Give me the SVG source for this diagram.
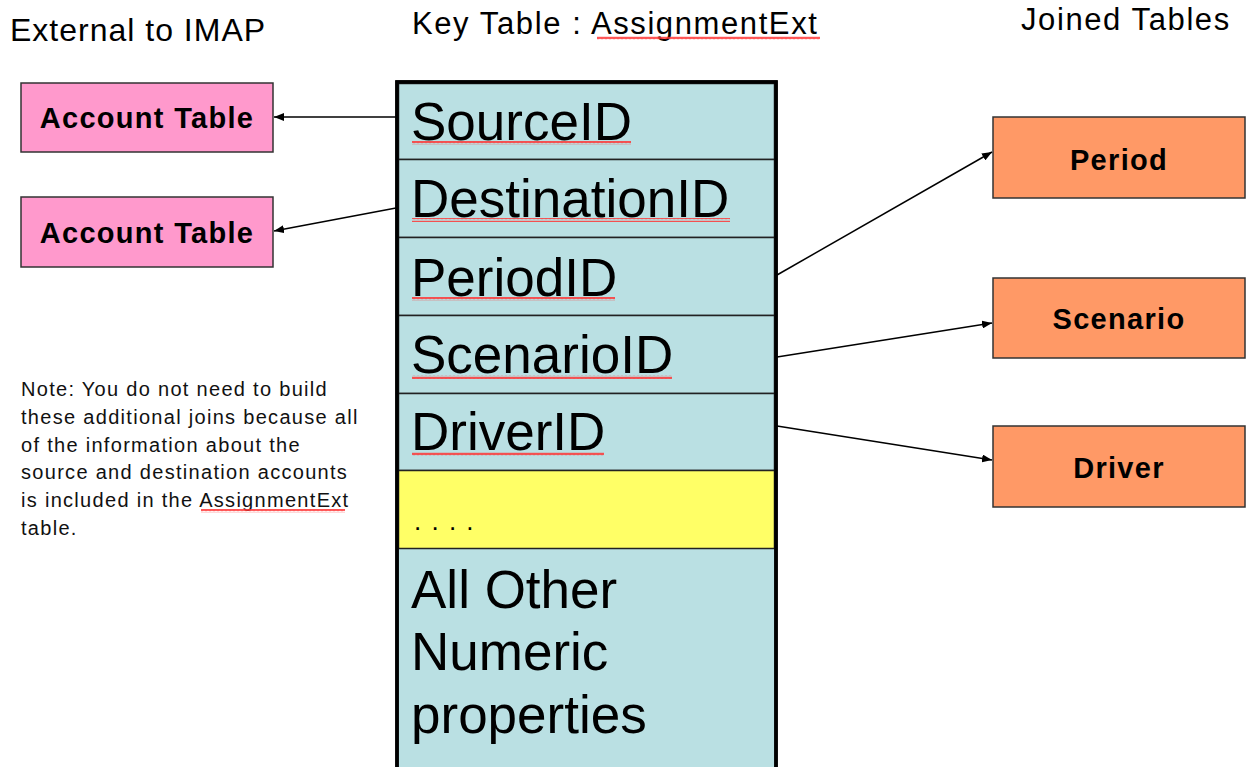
<svg xmlns="http://www.w3.org/2000/svg" width="1248" height="767" viewBox="0 0 1248 767">
<style>
.hdr{font-family:"Liberation Sans",Arial,sans-serif;font-size:31px;letter-spacing:1.6px;fill:#000}
.box{stroke:#333;stroke-width:1.5}
.pink{fill:#FF99CC}
.orange{fill:#FF9966}
.lbl{font-family:"Liberation Sans",Arial,sans-serif;font-size:29px;font-weight:bold;letter-spacing:1.3px;fill:#000}
.fld{font-family:"Liberation Sans",Arial,sans-serif;font-size:53px;fill:#000}
.row{fill:#BAE0E3;stroke:#222;stroke-width:1.5}
.note{font-family:"Liberation Sans",Arial,sans-serif;font-size:20px;letter-spacing:1.3px;fill:#111}
.conn{stroke:#000;stroke-width:1.5;fill:none;marker-end:url(#arr)}
.sq{fill:url(#squig)}
</style>
<defs>
<marker id="arr" viewBox="0 0 10 8" refX="10" refY="4" markerWidth="10" markerHeight="8" markerUnits="userSpaceOnUse" orient="auto">
<path d="M0,0 L10,4 L0,8 Z" fill="#000"/>
</marker>
<pattern id="squig" x="0" y="0" width="4" height="4" patternUnits="userSpaceOnUse">
<path d="M0,3.2 L1,0.8 L2,3.2 L3,0.8 L4,3.2" stroke="#FF3333" stroke-width="1" fill="none"/>
</pattern>
</defs>
<rect width="1248" height="767" fill="#fff"/>

<g id="headers">
<text class="hdr" x="10" y="41" style="font-size:32px;letter-spacing:1px">External to IMAP</text>
<text class="hdr" x="412" y="34">Key Table : AssignmentExt</text>
<rect class="sq" x="597" y="36" width="223" height="4"/>
<text class="hdr" x="1021" y="30">Joined Tables</text>
</g>

<g id="key-table">
<rect x="397" y="82" width="379" height="700" fill="#BAE0E3" stroke="#000" stroke-width="3.5"/>
<rect class="row" x="398.5" y="83.5" width="376" height="76"/>
<rect class="row" x="398.5" y="159.5" width="376" height="78"/>
<rect class="row" x="398.5" y="237.5" width="376" height="78"/>
<rect class="row" x="398.5" y="315.5" width="376" height="78"/>
<rect class="row" x="398.5" y="393.5" width="376" height="77"/>
<rect x="398.5" y="470.5" width="376" height="78" fill="#FFFF66" stroke="#222" stroke-width="1.5"/>
<rect x="397" y="82" width="379" height="700" fill="none" stroke="#000" stroke-width="3.5"/>
<text class="fld" x="411" y="140">SourceID</text>
<rect class="sq" x="412" y="141" width="219" height="4"/>
<text class="fld" x="411" y="217">DestinationID</text>
<rect class="sq" x="412" y="218" width="318" height="4"/>
<text class="fld" x="411" y="296">PeriodID</text>
<rect class="sq" x="412" y="297" width="203" height="4"/>
<text class="fld" x="411" y="373">ScenarioID</text>
<rect class="sq" x="412" y="375" width="260" height="4"/>
<text class="fld" x="411" y="450">DriverID</text>
<rect class="sq" x="412" y="452" width="192" height="4"/>
<text class="fld" x="414" y="530" style="font-size:26px;letter-spacing:1.5px">. . . .</text>
<text class="fld" x="411" y="608">All Other</text>
<text class="fld" x="411" y="670">Numeric</text>
<text class="fld" x="411" y="733">properties</text>
</g>

<g id="account-table-1">
<rect class="box pink" x="21" y="83" width="252" height="69"/>
<text class="lbl" x="147" y="128" text-anchor="middle">Account Table</text>
</g>
<g id="account-table-2">
<rect class="box pink" x="21" y="197" width="252" height="70"/>
<text class="lbl" x="147" y="243" text-anchor="middle">Account Table</text>
</g>

<g id="period">
<rect class="box orange" x="993" y="117" width="252" height="81"/>
<text class="lbl" x="1119" y="170" text-anchor="middle">Period</text>
</g>
<g id="scenario">
<rect class="box orange" x="993" y="278" width="252" height="80"/>
<text class="lbl" x="1119" y="329" text-anchor="middle">Scenario</text>
</g>
<g id="driver">
<rect class="box orange" x="993" y="426" width="252" height="81"/>
<text class="lbl" x="1119" y="478" text-anchor="middle">Driver</text>
</g>

<g id="note">
<text class="note" x="21" y="396">Note: You do not need to build</text>
<text class="note" x="21" y="424">these additional joins because all</text>
<text class="note" x="21" y="452">of the information about the</text>
<text class="note" x="21" y="479">source and destination accounts</text>
<text class="note" x="21" y="507">is included in the AssignmentExt</text>
<rect class="sq" x="201" y="509" width="144" height="4"/>
<text class="note" x="21" y="535">table.</text>
</g>

<g id="connectors">
<line class="conn" x1="396" y1="117" x2="274" y2="117"/>
<line class="conn" x1="396" y1="208" x2="274" y2="231"/>
<line class="conn" x1="777" y1="275" x2="992" y2="152"/>
<line class="conn" x1="777" y1="357" x2="992" y2="323"/>
<line class="conn" x1="777" y1="426" x2="992" y2="460"/>
</g>
</svg>
